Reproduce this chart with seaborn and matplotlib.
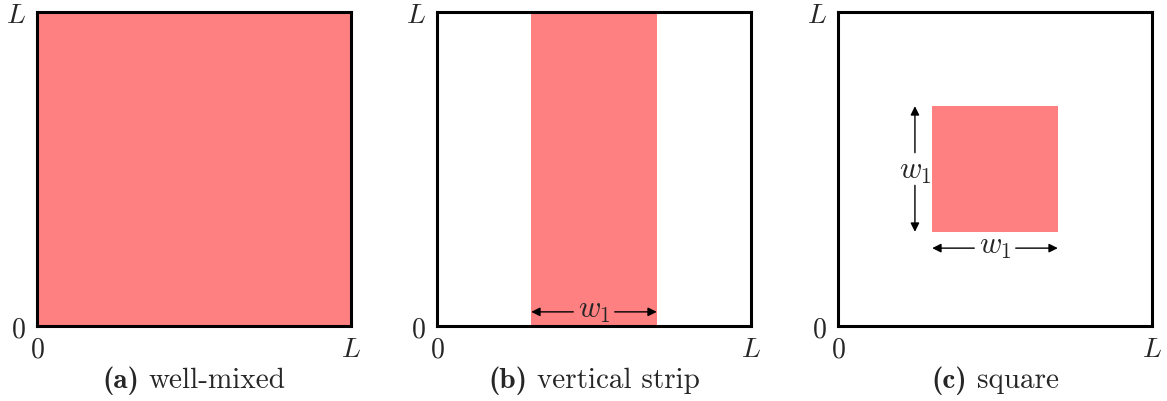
import matplotlib
matplotlib.use("Agg")
import matplotlib.pyplot as plt
from matplotlib.offsetbox import TextArea, HPacker, AnnotationBbox
import seaborn as sns

sns.set_style("white")
plt.rcParams['font.family'] = ['cmr10']
plt.rcParams['mathtext.fontset'] = 'cm'
plt.rcParams['axes.unicode_minus'] = False

# Data
panel_labels = ["(a)", "(b)", "(c)"]
panel_titles = ["well-mixed", "vertical strip", "square"]
# region extents (fraction of L): x0, x1, y0, y1
region_x0 = [0.0, 0.3, 0.3]
region_x1 = [1.0, 0.7, 0.7]
region_y0 = [0.0, 0.0, 0.3]
region_y1 = [1.0, 1.0, 0.7]
tick_values = [0, 1]
tick_labels = ["$0$", "$L$"]

FILL = "#FF8080"
FS_TICK = 20
FS_CAP = 21
FS_W = 22

fig = plt.figure(figsize=(11.67, 4.02), dpi=100)
lefts = [37 / 1167, 437 / 1167, 838 / 1167]
bottom = (402 - 327) / 402
w = 314 / 1167
h = 314 / 402

arrow = dict(arrowstyle='-|>', color='black', lw=1.0, mutation_scale=13,
             shrinkA=0, shrinkB=0)


def h_dim(ax, x0, x1, y, gap):
    c = (x0 + x1) / 2
    ax.annotate("", xy=(x0, y), xytext=(c - gap, y), arrowprops=arrow, zorder=2)
    ax.annotate("", xy=(x1, y), xytext=(c + gap, y), arrowprops=arrow, zorder=2)
    ax.text(c, y + 0.006, "$w_1$", ha='center', va='center', fontsize=FS_W, zorder=3)


def v_dim(ax, y0, y1, x, gap):
    c = (y0 + y1) / 2
    ax.annotate("", xy=(x, y0), xytext=(x, c - gap), arrowprops=arrow, zorder=2)
    ax.annotate("", xy=(x, y1), xytext=(x, c + gap), arrowprops=arrow, zorder=2)
    ax.text(x, c - 0.006, "$w_1$", ha='center', va='center', fontsize=FS_W, zorder=3)


for i in range(3):
    ax = fig.add_axes([lefts[i], bottom, w, h])
    ax.set_xlim(0, 1)
    ax.set_ylim(0, 1)
    ax.fill_between([region_x0[i], region_x1[i]], region_y0[i], region_y1[i],
                    color=FILL, linewidth=0, zorder=1)
    for s in ax.spines.values():
        s.set_linewidth(2.2)
        s.set_color("black")
        s.set_zorder(5)
    ax.set_xticks(tick_values)
    ax.set_xticklabels(tick_labels, fontsize=FS_TICK)
    ax.set_yticks(tick_values)
    ax.set_yticklabels(tick_labels, fontsize=FS_TICK)
    ax.tick_params(length=0)
    ax.tick_params(axis='x', pad=7)
    ax.tick_params(axis='y', pad=8)

    box = HPacker(children=[
        TextArea(panel_labels[i], textprops=dict(fontfamily='cmb10', fontsize=FS_CAP)),
        TextArea(panel_titles[i], textprops=dict(fontfamily='cmr10', fontsize=FS_CAP)),
    ], sep=7, pad=0, align='baseline')
    ab = AnnotationBbox(box, (0.5, -0.17), xycoords='axes fraction', frameon=False,
                        box_alignment=(0.5, 0.5), annotation_clip=False, pad=0)
    ax.add_artist(ab)

    if i == 1:
        h_dim(ax, region_x0[i], region_x1[i], 0.045, 0.066)
    if i == 2:
        h_dim(ax, region_x0[i], region_x1[i], 0.248, 0.066)
        v_dim(ax, region_y0[i], region_y1[i], 0.245, 0.052)

fig.savefig("out.png", dpi=100)
